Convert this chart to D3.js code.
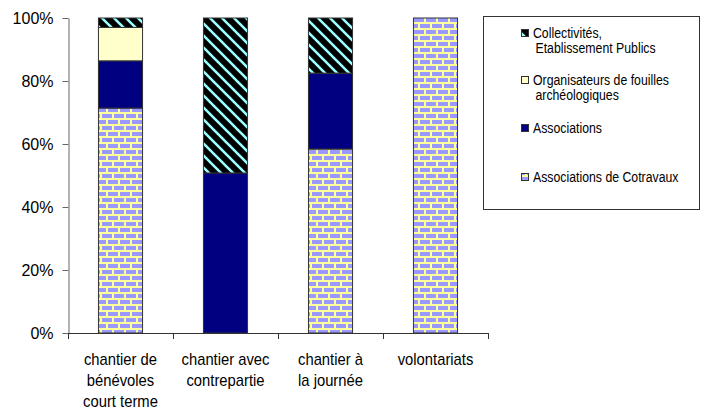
<!DOCTYPE html>
<html>
<head>
<meta charset="utf-8">
<script src="https://cdn.jsdelivr.net/npm/d3@7"></script>
<style>
  body { margin: 0; background: #fff; }
  svg { display: block; }
  text { font-family: "Liberation Sans", Arial, sans-serif; fill: #000; }
</style>
</head>
<body>
<div id="chart"></div>
<script>
// Stacked 100% bars - types de chantier par organisateur

const categories = ["chantier de bénévoles court terme", "chantier avec contrepartie", "chantier à la journée", "volontariats"];
const categoryLines = [
    ["chantier de", "bénévoles", "court terme"],
    ["chantier avec", "contrepartie"],
    ["chantier à", "la journée"],
    ["volontariats"]
];

// values in %, bottom to top
const cotravaux = [71.4, 0, 58.4, 100];
const associations = [15.0, 50.8, 24.1, 0];
const organisateurs = [10.6, 0, 0, 0];
const collectivites = [3.0, 49.2, 17.5, 0];

const yTicks = [0, 20, 40, 60, 80, 100];

const seriesNames = ["Associations de Cotravaux", "Associations", "Organisateurs de fouilles archéologiques", "Collectivités, Etablissement Publics"];
const legendLines = [
    ["Collectivités,", "Etablissement Publics"],
    ["Organisateurs de fouilles", "archéologiques"],
    ["Associations"],
    ["Associations de Cotravaux"]
];

const width = 704;
const height = 409;
const margin = {top: 18, right: 216, bottom: 76, left: 68};
const plotRight = 488;

const svg = d3.select("#chart")
    .append("svg")
    .attr("width", width)
    .attr("height", height);

// patterns
const defs = svg.append("defs");

const brick = defs.append("pattern")
    .attr("id", "brick")
    .attr("patternUnits", "userSpaceOnUse")
    .attr("width", 12)
    .attr("height", 12);
brick.append("rect").attr("width", 12).attr("height", 12).attr("fill", "#ffff99");
brick.append("rect").attr("x", 0).attr("y", 0).attr("width", 10).attr("height", 4).attr("fill", "#9999ff");
brick.append("rect").attr("x", 0).attr("y", 6).attr("width", 4).attr("height", 4).attr("fill", "#9999ff");
brick.append("rect").attr("x", 6).attr("y", 6).attr("width", 6).attr("height", 4).attr("fill", "#9999ff");

const stripes = defs.append("pattern")
    .attr("id", "stripes")
    .attr("patternUnits", "userSpaceOnUse")
    .attr("width", 12)
    .attr("height", 12);
stripes.append("rect").attr("width", 12).attr("height", 12).attr("fill", "#000");
stripes.append("path")
    .attr("d", "M-2,-2L14,14M-2,10L2,14M10,-2L14,2")
    .attr("stroke", "#99ffff")
    .attr("stroke-width", 2.6);

const fills = ["url(#brick)", "#000080", "#ffffcc", "url(#stripes)"];

// data for stack
const table = categories.map((c, i) => ({
    category: c,
    [seriesNames[0]]: cotravaux[i],
    [seriesNames[1]]: associations[i],
    [seriesNames[2]]: organisateurs[i],
    [seriesNames[3]]: collectivites[i]
}));

const stacked = d3.stack().keys(seriesNames)(table);

const xScale = d3.scaleBand()
    .domain(categories)
    .range([margin.left, plotRight])
    .padding(0);

const barWidth = xScale.bandwidth() * 0.42;

const yScale = d3.scaleLinear()
    .domain([0, 100])
    .range([height - margin.bottom, margin.top]);

// bars
svg.append("g")
    .selectAll("g")
    .data(stacked)
    .join("g")
    .attr("fill", (d, i) => fills[i])
    .selectAll("rect")
    .data(d => d.filter(s => s[1] - s[0] > 0))
    .join("rect")
    .attr("x", d => xScale(d.data.category) + (xScale.bandwidth() - barWidth) / 2)
    .attr("y", d => yScale(d[1]))
    .attr("width", barWidth)
    .attr("height", d => yScale(d[0]) - yScale(d[1]))
    .attr("stroke", "#333")
    .attr("stroke-width", 1);

// y axis
const yAxis = svg.append("g")
    .attr("transform", `translate(${margin.left + 0.5}, 0)`)
    .call(d3.axisLeft(yScale)
        .tickValues(yTicks)
        .tickFormat(d => d + "%")
        .tickSize(6)
        .tickSizeOuter(0)
        .tickPadding(9));
yAxis.select(".domain").attr("stroke", "#666");
yAxis.selectAll(".tick line").attr("stroke", "#666");
yAxis.selectAll("text").attr("font-size", 16).attr("font-family", "Liberation Sans, Arial, sans-serif").attr("fill", "#000");

// x axis
const xAxis = svg.append("g");
xAxis.append("line")
    .attr("x1", margin.left)
    .attr("x2", plotRight)
    .attr("y1", yScale(0) + 0.5)
    .attr("y2", yScale(0) + 0.5)
    .attr("stroke", "#333");
xAxis.selectAll(".xtick")
    .data(categories.map(c => xScale(c)).concat([plotRight]))
    .join("line")
    .attr("class", "xtick")
    .attr("x1", d => d + 0.5)
    .attr("x2", d => d + 0.5)
    .attr("y1", yScale(0))
    .attr("y2", yScale(0) + 6)
    .attr("stroke", "#333");

// labels are narrow in the original, squeeze horizontally
xAxis.selectAll(".xlabel")
    .data(categories)
    .join("text")
    .attr("class", "xlabel")
    .attr("text-anchor", "middle")
    .attr("font-size", 17)
    .attr("transform", d => `translate(${xScale(d) + xScale.bandwidth() / 2}, ${yScale(0) + 32}) scale(0.87, 1)`)
    .selectAll("tspan")
    .data((d, i) => categoryLines[i])
    .join("tspan")
    .attr("x", 0)
    .attr("y", (d, i) => i * 21)
    .text(d => d);

// legend
const legend = svg.append("g");
legend.append("rect")
    .attr("x", 483.5)
    .attr("y", 16.5)
    .attr("width", 216)
    .attr("height", 193)
    .attr("fill", "#fff")
    .attr("stroke", "#333");

const legendY = [33, 80, 128, 177];
const legendFills = [fills[3], fills[2], fills[1], fills[0]];

const items = legend.selectAll(".item")
    .data(legendLines)
    .join("g")
    .attr("class", "item")
    .attr("transform", (d, i) => `translate(521, ${legendY[i]})`);

items.append("rect")
    .attr("x", 0.5)
    .attr("y", -3.5)
    .attr("width", 7)
    .attr("height", 7)
    .attr("fill", (d, i) => legendFills[i])
    .attr("stroke", "#333");

items.append("text")
    .attr("font-size", 15)
    .attr("transform", "translate(12, 5) scale(0.82, 1)")
    .selectAll("tspan")
    .data(d => d)
    .join("tspan")
    .attr("x", (d, i) => i === 0 ? 0 : 3)
    .attr("y", (d, i) => i * 15)
    .text(d => d);
</script>
</body>
</html>
